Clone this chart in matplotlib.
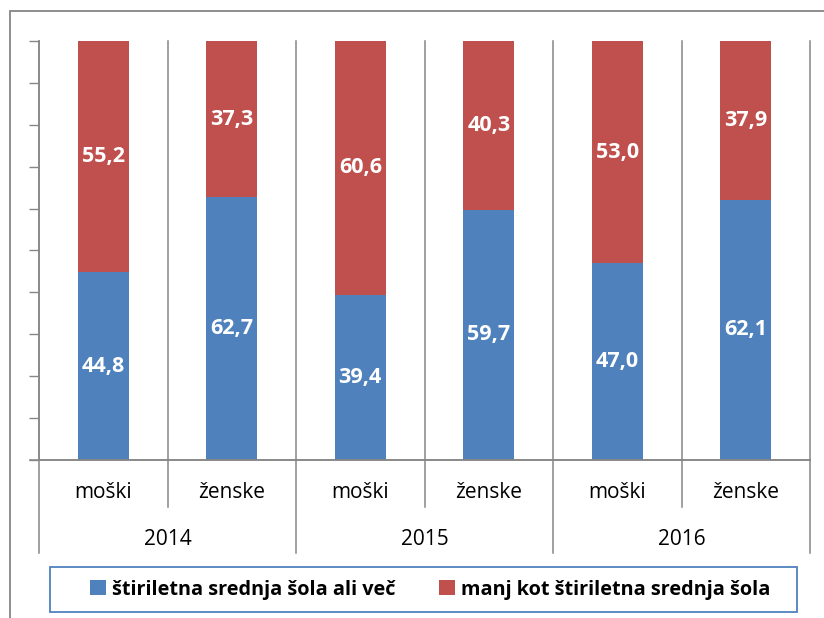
import matplotlib.pyplot as plt
import matplotlib.transforms as mtransforms
from matplotlib.patches import Rectangle
from matplotlib.lines import Line2D

# data
years = ['2014', '2015', '2016']
genders = ['moški', 'ženske', 'moški', 'ženske', 'moški', 'ženske']
series_names = ['štiriletna srednja šola ali več', 'manj kot štiriletna srednja šola']
upper_sec = [44.8, 62.7, 39.4, 59.7, 47.0, 62.1]
lower_sec = [55.2, 37.3, 60.6, 40.3, 53.0, 37.9]

blue = '#4F81BD'
red = '#C0504D'
grid = '#868686'

plt.rcParams['font.family'] = ['Open Sans', 'DejaVu Sans']

W, H = 824, 618
fig = plt.figure(figsize=(W / 100, H / 100), dpi=100)
ax = fig.add_axes([39 / W, (H - 460) / H, (810 - 39) / W, (460 - 41) / H])

x = [i + 0.5 for i in range(len(genders))]
ax.bar(x, upper_sec, width=0.4, color=blue, label=series_names[0])
ax.bar(x, lower_sec, width=0.4, bottom=upper_sec, color=red, label=series_names[1])

for xi, a, b in zip(x, upper_sec, lower_sec):
    ax.text(xi, a / 2, f'{a:.1f}'.replace('.', ','), ha='center', va='center',
            color='white', fontsize=15.5, fontweight='bold')
    ax.text(xi, a + b / 2, f'{b:.1f}'.replace('.', ','), ha='center', va='center',
            color='white', fontsize=15.5, fontweight='bold')

ax.set_xlim(0, len(genders))
ax.set_ylim(0, 100)
ax.set_yticks(range(0, 101, 10))
ax.set_yticklabels([])
ax.set_xticks([])
ax.tick_params(axis='y', direction='out', length=7, width=1, color=grid)
for s in ['top', 'right']:
    ax.spines[s].set_visible(False)
for s in ['left', 'bottom']:
    ax.spines[s].set_color(grid)
    ax.spines[s].set_linewidth(1.1)
ax.spines['left'].set_bounds(0, 100)

# category separators, extended down through the label area
trans = mtransforms.blended_transform_factory(ax.transData, ax.transAxes)
for i in range(len(genders) + 1):
    bottom = -0.222 if i % 2 == 0 else -0.112
    ax.add_line(Line2D([i, i], [bottom, 1], transform=trans, color=grid,
                       lw=1.1, clip_on=False))
# x axis line extends left past tick marks
ax.add_line(Line2D([-0.07, 6], [0, 0], transform=trans, color=grid, lw=1.1, clip_on=False))

for xi, g in zip(x, genders):
    ax.text(xi, -0.077, g, transform=trans, ha='center', va='center', fontsize=15)
for j, yr in enumerate(years):
    ax.text(2 * j + 1, -0.19, yr, transform=trans, ha='center', va='center', fontsize=15)

# outer chart border
fig.patches.append(Rectangle((9.5 / W, -0.1), 1.2, (H - 11.5) / H + 0.1,
                             transform=fig.transFigure, fill=False,
                             edgecolor=grid, lw=1.3))
# legend box
fig.patches.append(Rectangle((50 / W, (H - 612) / H), 747 / W, 45 / H,
                             transform=fig.transFigure, fill=False,
                             edgecolor=blue, lw=1.3))
leg = fig.legend(loc='center', bbox_to_anchor=(430 / W, (H - 589.5) / H),
                 ncol=2, frameon=False, handlelength=0.8, handleheight=0.8,
                 handletextpad=0.3, columnspacing=2.2,
                 prop={'weight': 'bold', 'size': 14.3})

fig.savefig('out.png', dpi=100)
